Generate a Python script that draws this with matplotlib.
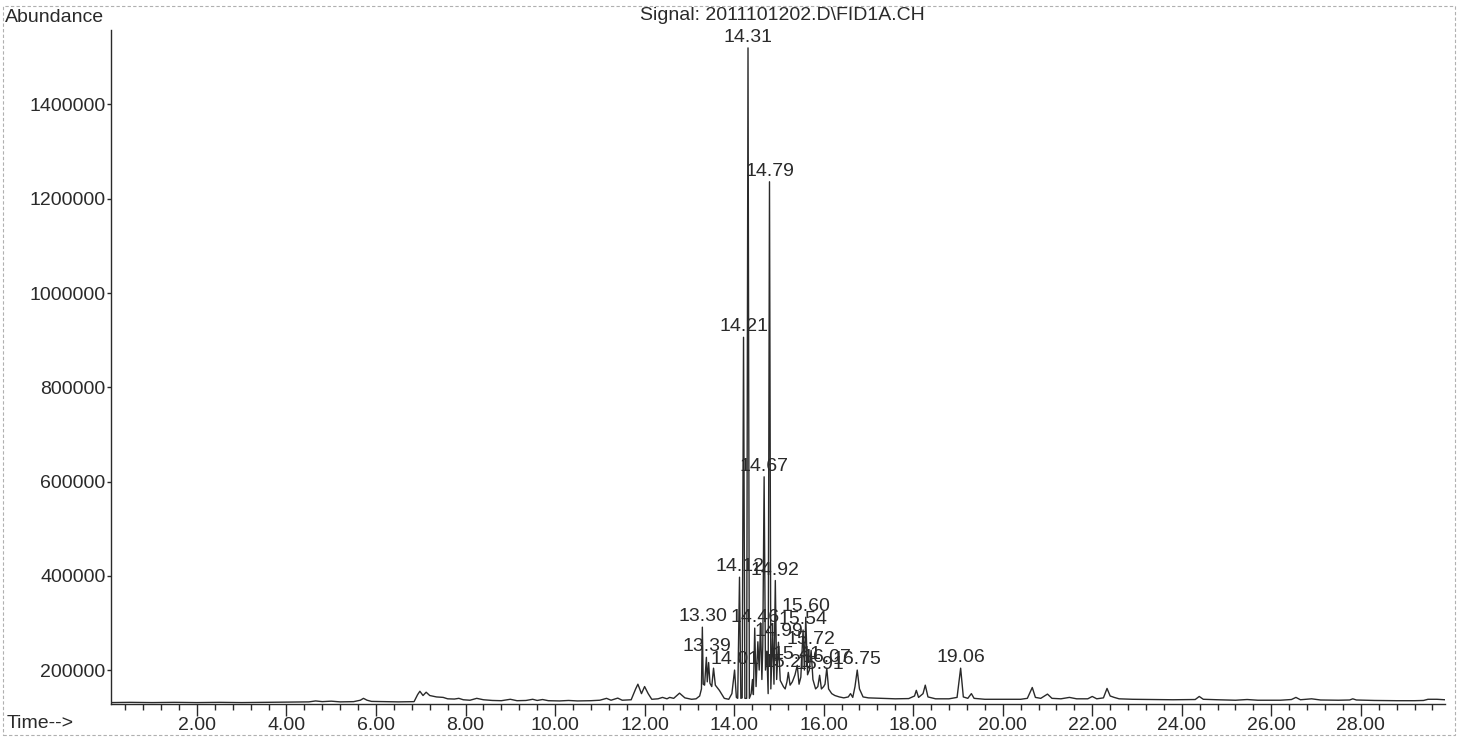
import matplotlib
matplotlib.use("Agg")
import matplotlib.pyplot as plt
from matplotlib.ticker import MultipleLocator, FormatStrFormatter
from matplotlib.patches import Rectangle

plt.rcParams['font.family'] = ['Liberation Sans', 'DejaVu Sans']

# chromatogram trace (retention time in min, abundance)
rt = [0.08, 0.5, 1.0, 1.5, 2.0, 2.5, 3.0, 3.5, 4.0, 4.5, 4.65, 4.8, 5.0, 5.2, 5.5,
      5.65, 5.72, 5.8, 5.9, 6.2, 6.5, 6.85, 6.93, 6.98, 7.05, 7.12, 7.2, 7.35, 7.5,
      7.6, 7.75, 7.85, 7.95, 8.1, 8.25, 8.4, 8.6, 8.8, 9.0, 9.15, 9.35, 9.5, 9.6,
      9.72, 9.85, 10.1, 10.3, 10.5, 10.8, 11.0, 11.15, 11.25, 11.4, 11.5, 11.7,
      11.8, 11.85, 11.93, 12.0, 12.08, 12.16, 12.3, 12.4, 12.5, 12.56, 12.65, 12.78,
      12.9, 13.05, 13.15, 13.23, 13.27, 13.29, 13.31, 13.34, 13.38, 13.40, 13.43,
      13.46, 13.50, 13.54, 13.58, 13.67, 13.78, 13.88, 13.95, 14.01, 14.05, 14.08,
      14.12, 14.15, 14.18, 14.21, 14.24, 14.28, 14.31, 14.34, 14.38, 14.41, 14.43,
      14.46, 14.49, 14.53, 14.56, 14.59, 14.62, 14.64, 14.67, 14.70, 14.73, 14.76,
      14.79, 14.82, 14.86, 14.89, 14.92, 14.95, 14.99, 15.03, 15.10, 15.14, 15.18,
      15.21, 15.25, 15.30, 15.36, 15.41, 15.45, 15.49, 15.54, 15.57, 15.60, 15.64,
      15.68, 15.72, 15.76, 15.82, 15.87, 15.91, 15.95, 16.00, 16.03, 16.07, 16.11,
      16.18, 16.25, 16.35, 16.45, 16.55, 16.60, 16.65, 16.70, 16.75, 16.80, 16.88,
      17.0, 17.3, 17.6, 17.9, 18.03, 18.07, 18.12, 18.22, 18.27, 18.33, 18.5, 18.8,
      18.98, 19.06, 19.12, 19.22, 19.30, 19.36, 19.6, 20.0, 20.4, 20.55, 20.66,
      20.73, 20.85, 21.0, 21.1, 21.3, 21.49, 21.65, 21.9, 22.0, 22.1, 22.25, 22.33,
      22.4, 22.49, 22.6, 22.9, 23.3, 23.8, 24.3, 24.39, 24.48, 24.8, 25.2, 25.46,
      25.7, 26.2, 26.45, 26.55, 26.65, 26.9, 27.1, 27.5, 27.75, 27.82, 27.9, 28.3,
      28.8, 29.2, 29.4, 29.5, 29.7, 29.88]
abundance = [131000, 131500, 131000, 131500, 131000, 131500, 131000, 131500, 132000,
             132500, 134500, 133000, 134000, 132500, 133000, 136000, 140000, 136000,
             133500, 133000, 132500, 133000, 148000, 155000, 146000, 153000, 146000,
             143000, 142000, 139000, 138500, 140000, 137000, 136000, 140000, 137000,
             135500, 135000, 138000, 135000, 135500, 138000, 135500, 137500, 135000,
             134500, 135500, 134500, 135000, 136000, 140000, 136000, 140500, 136000,
             137000, 160000, 170000, 150000, 165000, 150000, 138000, 139000, 142000,
             139000, 142000, 140000, 151000, 141000, 138000, 139000, 145000, 160000,
             291000, 170000, 168000, 227000, 175000, 216000, 172000, 165000, 204000,
             168000, 157000, 140000, 138000, 150000, 200000, 142000, 140000, 397000,
             140000, 141000, 906000, 140000, 140000, 1520000, 140000, 150000, 180000,
             148000, 289000, 165000, 260000, 200000, 300000, 180000, 250000, 610000,
             200000, 240000, 150000, 1236000, 160000, 280000, 170000, 390000, 180000,
             259000, 178000, 165000, 160000, 175000, 195000, 168000, 175000, 190000,
             210000, 170000, 185000, 285000, 200000, 312000, 190000, 200000, 242000,
             180000, 160000, 165000, 189000, 160000, 165000, 170000, 204000, 160000,
             150000, 146000, 143000, 141000, 143000, 150000, 142000, 165000, 200000,
             160000, 143000, 141000, 140000, 139000, 139500, 145000, 157000, 142000,
             150000, 168000, 143000, 139000, 139000, 142000, 204000, 143000, 140000,
             150000, 140000, 138000, 138000, 138000, 140000, 163000, 142000, 140000,
             149000, 140000, 139000, 142000, 139000, 139000, 144000, 139000, 141000,
             161000, 145000, 142000, 139000, 138000, 137500, 137000, 137500, 144000,
             138000, 137000, 136000, 137500, 136000, 136000, 137500, 142000, 137000,
             139000, 136500, 136000, 136500, 139000, 136500, 135500, 135000, 135000,
             135500, 138000, 138000, 137000]

# labelled peaks (retention time, apex abundance)
peak_rt = [13.30, 13.39, 14.01, 14.12, 14.21, 14.31, 14.46, 14.67, 14.79, 14.92,
           14.99, 15.21, 15.41, 15.54, 15.60, 15.72, 15.91, 16.07, 16.75, 19.06]
peak_abund = [291000, 227000, 200000, 397000, 906000, 1520000, 289000, 610000,
              1236000, 390000, 259000, 195000, 210000, 285000, 312000, 242000,
              189000, 204000, 200000, 204000]

ink = '#2a2a2a'

fig = plt.figure(figsize=(14.63, 7.39), dpi=100)
ax = fig.add_axes([111 / 1463, 1 - 704 / 739, (1445 - 111) / 1463, (704 - 30) / 739])

ax.plot(rt, abundance, color=ink, lw=1.0)

for t, a in zip(peak_rt, peak_abund):
    ax.text(t, a + 4000, f'{t:.2f}', ha='center', va='bottom', fontsize=14, color=ink)

ax.set_xlim(0.08, 29.88)
ax.set_ylim(128000, 1558000)

ax.set_xticks([x for x in range(2, 30, 2)])
ax.xaxis.set_minor_locator(MultipleLocator(0.4))
ax.xaxis.set_major_formatter(FormatStrFormatter('%.2f'))
ax.set_yticks([200000, 400000, 600000, 800000, 1000000, 1200000, 1400000])
ax.yaxis.set_major_formatter(FormatStrFormatter('%d'))

ax.tick_params(axis='x', which='major', direction='out', length=8.5, width=1,
               pad=1, labelsize=14, colors=ink)
ax.tick_params(axis='x', which='minor', direction='out', length=4.3, width=1, colors=ink)
ax.tick_params(axis='y', which='major', direction='out', length=3, width=1,
               pad=1, labelsize=14, colors=ink)

for s in ['top', 'right']:
    ax.spines[s].set_visible(False)
for s in ['left', 'bottom']:
    ax.spines[s].set_color(ink)
    ax.spines[s].set_linewidth(1)

fig.text(5 / 1463, 1 - 18 / 739, 'Abundance', ha='left', va='center', fontsize=14, color=ink)
fig.text(782 / 1463, 1 - 15 / 739, 'Signal: 2011101202.D\\FID1A.CH', ha='center',
         va='center', fontsize=14, color=ink)
fig.text(7 / 1463, 1 - 724 / 739, 'Time-->', ha='left', va='center', fontsize=14, color=ink)

# faint page border of the scan
fig.add_artist(Rectangle((3 / 1463, 4 / 739), 1452 / 1463, 729 / 739, transform=fig.transFigure,
                         fill=False, ec='#b0b0b0', lw=0.8, ls=(0, (3, 2))))

fig.savefig('out.png', dpi=100)
